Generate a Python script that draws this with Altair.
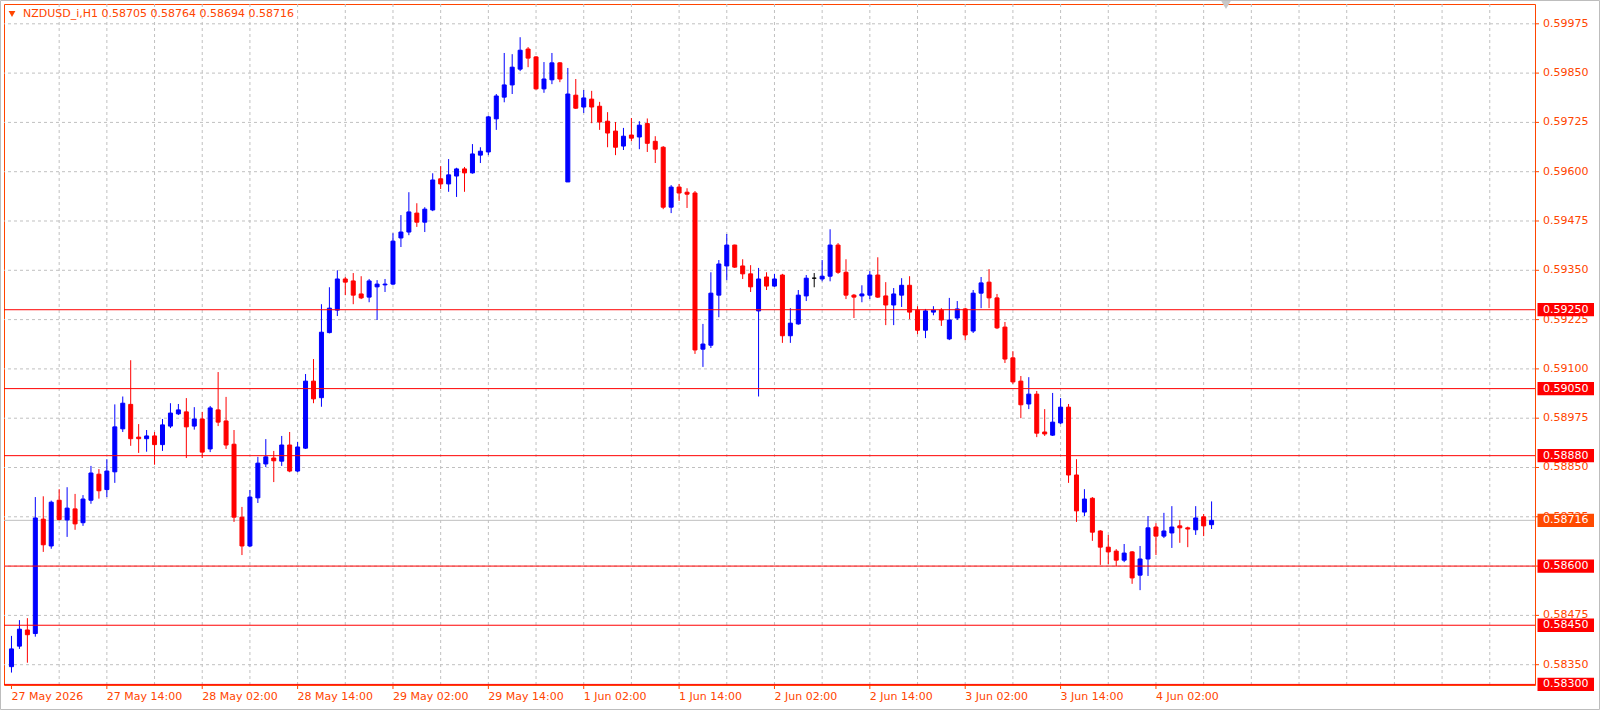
import altair as alt
import pandas as pd

# ---------------- data ----------------
OPEN = [0.58345, 0.58397, 0.58438, 0.58429, 0.58719, 0.58651, 0.58767, 0.58717, 0.58745, 0.58710,
        0.58767, 0.58833, 0.58794, 0.58839, 0.58948, 0.59010, 0.58927, 0.58923, 0.58930, 0.58908,
        0.58955, 0.58986, 0.58991, 0.58955, 0.58973, 0.58897, 0.58996, 0.58968, 0.58909, 0.58724,
        0.58651, 0.58773, 0.58859, 0.58874, 0.58866, 0.58907, 0.58841, 0.58899, 0.59069, 0.59027,
        0.59192, 0.59249, 0.59328, 0.59323, 0.59290, 0.59282, 0.59308, 0.59313, 0.59315, 0.59432,
        0.59447, 0.59495, 0.59472, 0.59503, 0.59582, 0.59569, 0.59589, 0.59607, 0.59597, 0.59642,
        0.59650, 0.59734, 0.59789, 0.59820, 0.59860, 0.59911, 0.59891, 0.59810, 0.59833, 0.59876,
        0.59574, 0.59794, 0.59764, 0.59784, 0.59766, 0.59728, 0.59703, 0.59665, 0.59693, 0.59688,
        0.59722, 0.59677, 0.59662, 0.59510, 0.59561, 0.59548, 0.59546, 0.59150, 0.59160, 0.59287,
        0.59361, 0.59414, 0.59361, 0.59341, 0.59247, 0.59333, 0.59310, 0.59338, 0.59184, 0.59214,
        0.59285, 0.59330, 0.59328, 0.59335, 0.59414, 0.59345, 0.59287, 0.59285, 0.59287, 0.59338,
        0.59285, 0.59262, 0.59287, 0.59312, 0.59249, 0.59198, 0.59244, 0.59249, 0.59176, 0.59229,
        0.59252, 0.59196, 0.59292, 0.59320, 0.59280, 0.59206, 0.59128, 0.59069, 0.59011, 0.59036,
        0.58940, 0.58932, 0.58963, 0.59003, 0.58831, 0.58737, 0.58772, 0.58689, 0.58648, 0.58638,
        0.58615, 0.58636, 0.58577, 0.58618, 0.58699, 0.58676, 0.58684, 0.58702, 0.58697, 0.58692,
        0.58725, 0.58705]
HIGH = [0.58423, 0.58463, 0.58468, 0.58775, 0.58777, 0.58766, 0.58795, 0.58800, 0.58783, 0.58780,
        0.58854, 0.58846, 0.58871, 0.59010, 0.59030, 0.59122, 0.58960, 0.58945, 0.58940, 0.58973,
        0.59013, 0.59011, 0.59026, 0.59003, 0.58991, 0.59006, 0.59092, 0.59029, 0.58945, 0.58750,
        0.58793, 0.58877, 0.58922, 0.58892, 0.58930, 0.58940, 0.58915, 0.59087, 0.59125, 0.59264,
        0.59307, 0.59350, 0.59333, 0.59343, 0.59335, 0.59328, 0.59325, 0.59328, 0.59444, 0.59490,
        0.59548, 0.59520, 0.59510, 0.59596, 0.59614, 0.59632, 0.59610, 0.59612, 0.59670, 0.59662,
        0.59742, 0.59797, 0.59901, 0.59898, 0.59941, 0.59916, 0.59893, 0.59878, 0.59901, 0.59878,
        0.59863, 0.59835, 0.59807, 0.59805, 0.59777, 0.59751, 0.59726, 0.59711, 0.59736, 0.59728,
        0.59735, 0.59690, 0.59665, 0.59566, 0.59569, 0.59558, 0.59551, 0.59214, 0.59345, 0.59376,
        0.59442, 0.59415, 0.59378, 0.59363, 0.59356, 0.59345, 0.59341, 0.59341, 0.59254, 0.59300,
        0.59338, 0.59343, 0.59376, 0.59454, 0.59419, 0.59378, 0.59290, 0.59312, 0.59348, 0.59383,
        0.59320, 0.59305, 0.59330, 0.59335, 0.59259, 0.59252, 0.59259, 0.59254, 0.59280, 0.59272,
        0.59255, 0.59300, 0.59333, 0.59353, 0.59290, 0.59219, 0.59145, 0.59082, 0.59079, 0.59044,
        0.58998, 0.59039, 0.59026, 0.59011, 0.58871, 0.58795, 0.58775, 0.58691, 0.58679, 0.58643,
        0.58656, 0.58638, 0.58651, 0.58727, 0.58709, 0.58735, 0.58752, 0.58717, 0.58700, 0.58752,
        0.58732, 0.58764]
LOW = [0.58330, 0.58390, 0.58355, 0.58421, 0.58636, 0.58644, 0.58716, 0.58674, 0.58692, 0.58702,
       0.58758, 0.58771, 0.58775, 0.58811, 0.58940, 0.58905, 0.58887, 0.58890, 0.58857, 0.58892,
       0.58950, 0.58983, 0.58874, 0.58946, 0.58874, 0.58889, 0.58955, 0.58897, 0.58712, 0.58628,
       0.58648, 0.58760, 0.58851, 0.58813, 0.58854, 0.58838, 0.58838, 0.58897, 0.59013, 0.59004,
       0.59190, 0.59234, 0.59287, 0.59264, 0.59277, 0.59269, 0.59224, 0.59295, 0.59312, 0.59409,
       0.59439, 0.59460, 0.59447, 0.59500, 0.59556, 0.59549, 0.59536, 0.59549, 0.59595, 0.59622,
       0.59642, 0.59706, 0.59776, 0.59797, 0.59855, 0.59865, 0.59808, 0.59800, 0.59822, 0.59827,
       0.59574, 0.59759, 0.59749, 0.59723, 0.59706, 0.59662, 0.59642, 0.59655, 0.59677, 0.59657,
       0.59650, 0.59622, 0.59505, 0.59495, 0.59526, 0.59508, 0.59138, 0.59105, 0.59153, 0.59231,
       0.59325, 0.59356, 0.59328, 0.59295, 0.59030, 0.59300, 0.59308, 0.59166, 0.59166, 0.59212,
       0.59272, 0.59307, 0.59322, 0.59322, 0.59341, 0.59277, 0.59229, 0.59269, 0.59277, 0.59280,
       0.59211, 0.59211, 0.59257, 0.59226, 0.59188, 0.59178, 0.59236, 0.59209, 0.59173, 0.59224,
       0.59173, 0.59191, 0.59254, 0.59254, 0.59201, 0.59115, 0.59062, 0.58975, 0.58998, 0.58927,
       0.58930, 0.58930, 0.58960, 0.58811, 0.58712, 0.58727, 0.58664, 0.58603, 0.58605, 0.58600,
       0.58610, 0.58555, 0.58539, 0.58575, 0.58628, 0.58671, 0.58646, 0.58659, 0.58648, 0.58679,
       0.58676, 0.58694]
CLOSE = [0.58390, 0.58440, 0.58426, 0.58722, 0.58654, 0.58762, 0.58718, 0.58747, 0.58707, 0.58770,
         0.58836, 0.58791, 0.58841, 0.58953, 0.59013, 0.58923, 0.58923, 0.58930, 0.58908, 0.58958,
         0.58988, 0.58996, 0.58953, 0.58973, 0.58889, 0.59001, 0.58965, 0.58907, 0.58724, 0.58651,
         0.58775, 0.58861, 0.58877, 0.58867, 0.58907, 0.58841, 0.58902, 0.59069, 0.59024, 0.59193,
         0.59254, 0.59328, 0.59320, 0.59287, 0.59280, 0.59323, 0.59315, 0.59315, 0.59424, 0.59447,
         0.59498, 0.59472, 0.59505, 0.59579, 0.59569, 0.59592, 0.59607, 0.59597, 0.59645, 0.59652,
         0.59739, 0.59792, 0.59820, 0.59865, 0.59908, 0.59888, 0.59810, 0.59835, 0.59876, 0.59835,
         0.59797, 0.59761, 0.59787, 0.59764, 0.59726, 0.59698, 0.59662, 0.59690, 0.59685, 0.59718,
         0.59672, 0.59657, 0.59510, 0.59561, 0.59546, 0.59543, 0.59148, 0.59163, 0.59292, 0.59366,
         0.59414, 0.59358, 0.59341, 0.59308, 0.59328, 0.59310, 0.59328, 0.59184, 0.59216, 0.59287,
         0.59330, 0.59330, 0.59335, 0.59414, 0.59345, 0.59287, 0.59282, 0.59290, 0.59338, 0.59282,
         0.59262, 0.59290, 0.59312, 0.59244, 0.59198, 0.59247, 0.59249, 0.59224, 0.59224, 0.59252,
         0.59186, 0.59292, 0.59318, 0.59280, 0.59204, 0.59125, 0.59067, 0.59009, 0.59036, 0.58937,
         0.58935, 0.58965, 0.59003, 0.58831, 0.58740, 0.58770, 0.58686, 0.58648, 0.58636, 0.58615,
         0.58633, 0.58570, 0.58618, 0.58697, 0.58676, 0.58689, 0.58699, 0.58697, 0.58694, 0.58722,
         0.58702, 0.58716]

X_LABELS = ["27 May 2026", "27 May 14:00", "28 May 02:00", "28 May 14:00", "29 May 02:00",
            "29 May 14:00", "1 Jun 02:00", "1 Jun 14:00", "2 Jun 02:00", "2 Jun 14:00",
            "3 Jun 02:00", "3 Jun 14:00", "4 Jun 02:00"]
X_LABEL_STEP = 12
X_GRID_STEP = 6
PRICE_TICKS = [0.58350, 0.58475, 0.58600, 0.58725, 0.58850, 0.58975, 0.59100,
               0.59225, 0.59350, 0.59475, 0.59600, 0.59725, 0.59850, 0.59975]
LEVELS = [0.59250, 0.59050, 0.58880, 0.58600, 0.58450, 0.58300]
LAST_PRICE = 0.58716
SYMBOL = "NZDUSD_i,H1"

# ---------------- styling ----------------
FONT = "DejaVu Sans"
ORANGE = "#FF4500"
GRID = "#C0C0C0"
W, H = 1531, 681
XDOM = [-0.3125, 191.0625]
YDOM = [0.582985, 0.600252]

n = len(OPEN)
df = pd.DataFrame({"i": list(range(n)), "o": OPEN, "h": HIGH, "l": LOW, "c": CLOSE})
df["dir"] = ["up" if c > o else ("down" if c < o else "flat") for o, c in zip(OPEN, CLOSE)]

xs = alt.Scale(domain=XDOM, nice=False, zero=False)
ys = alt.Scale(domain=YDOM, nice=False, zero=False)
col = alt.Scale(domain=["up", "down", "flat"], range=["#0000FF", "#FF0000", "#000000"])

# grid
vgrid = alt.Chart(pd.DataFrame({"g": list(range(X_GRID_STEP, int(XDOM[1]) + 1, X_GRID_STEP))})).mark_rule(
    color=GRID, strokeDash=[3, 3], strokeWidth=1).encode(x=alt.X("g:Q", scale=xs, axis=None))
hgrid = alt.Chart(pd.DataFrame({"p": PRICE_TICKS})).mark_rule(
    color=GRID, strokeDash=[3, 3], strokeWidth=1).encode(y=alt.Y("p:Q", scale=ys, axis=None))
bidline = alt.Chart(pd.DataFrame({"p": [LAST_PRICE]})).mark_rule(
    color=GRID, strokeWidth=1).encode(y=alt.Y("p:Q", scale=ys, axis=None))

# candles
base = alt.Chart(df)
wicks = base.mark_rule(strokeWidth=1).encode(
    x=alt.X("i:Q", scale=xs, axis=None),
    y=alt.Y("l:Q", scale=ys, axis=None),
    y2="h:Q",
    color=alt.Color("dir:N", scale=col, legend=None))
bodies = base.mark_bar(orient="vertical", size=4, strokeWidth=1).encode(
    x=alt.X("i:Q", scale=xs, axis=None),
    y=alt.Y("o:Q", scale=ys, axis=None),
    y2="c:Q",
    color=alt.Color("dir:N", scale=col, legend=None),
    stroke=alt.Stroke("dir:N", scale=col, legend=None))

# axes (price axis on the right, time axis at the bottom)
ytk = pd.DataFrame({"p": PRICE_TICKS})
y_ticks = alt.Chart(ytk).mark_rule(color=ORANGE, strokeWidth=1).encode(
    x=alt.value(W), x2=alt.value(W + 4), y=alt.Y("p:Q", scale=ys, axis=None))
y_labels = alt.Chart(ytk).mark_text(align="left", baseline="middle", color=ORANGE,
                                    font=FONT, fontSize=11).encode(
    x=alt.value(W + 8), y=alt.Y("p:Q", scale=ys, axis=None),
    text=alt.Text("p:Q", format=".5f"))
xtk = pd.DataFrame({"b": [k * X_LABEL_STEP for k in range(len(X_LABELS))], "lab": X_LABELS})
x_ticks = alt.Chart(xtk).mark_rule(color=ORANGE, strokeWidth=1).encode(
    x=alt.X("b:Q", scale=xs, axis=None), y=alt.value(H), y2=alt.value(H + 4))
x_labels = alt.Chart(xtk).mark_text(align="left", baseline="top", color=ORANGE,
                                    font=FONT, fontSize=11, dx=0).encode(
    x=alt.X("b:Q", scale=xs, axis=None), y=alt.value(H + 6), text="lab:N")

# horizontal levels
lv = pd.DataFrame({"p": LEVELS})
levels = alt.Chart(lv).mark_rule(color="#FF0000", strokeWidth=1).encode(
    y=alt.Y("p:Q", scale=ys, axis=None))
lv_box = alt.Chart(lv).transform_calculate(
    lo="datum.p - 0.000168", hi="datum.p + 0.000168").mark_rect(color="#FF0000").encode(
    x=alt.value(1533.5), x2=alt.value(1590),
    y=alt.Y("lo:Q", scale=ys, axis=None), y2="hi:Q")
lv_txt = alt.Chart(lv).mark_text(align="left", baseline="middle", color="white",
                                 font=FONT, fontSize=11).encode(
    x=alt.value(W + 8), y=alt.Y("p:Q", scale=ys, axis=None),
    text=alt.Text("p:Q", format=".5f"))

lp = pd.DataFrame({"p": [LAST_PRICE]})
lp_box = alt.Chart(lp).transform_calculate(
    lo="datum.p - 0.000168", hi="datum.p + 0.000168").mark_rect(color="#FF4A00").encode(
    x=alt.value(1533.5), x2=alt.value(1590),
    y=alt.Y("lo:Q", scale=ys, axis=None), y2="hi:Q")
lp_txt = alt.Chart(lp).mark_text(align="left", baseline="middle", color="white",
                                 font=FONT, fontSize=11).encode(
    x=alt.value(W + 8), y=alt.Y("p:Q", scale=ys, axis=None),
    text=alt.Text("p:Q", format=".5f"))

# title line
title = "%s  %.5f %.5f %.5f %.5f" % (SYMBOL, OPEN[-1], HIGH[-1], LOW[-1], CLOSE[-1])
one = pd.DataFrame({"t": [title]})
title_txt = alt.Chart(one).mark_text(align="left", baseline="middle", color=ORANGE,
                                     font=FONT, fontSize=11).encode(
    x=alt.value(19), y=alt.value(10), text="t:N")
title_tri = alt.Chart(one).mark_point(shape="triangle-down", filled=True, size=45,
                                      color=ORANGE, opacity=1).encode(
    x=alt.value(8), y=alt.value(10))
shift_tri = alt.Chart(one).mark_point(shape="triangle-down", filled=True, size=90,
                                      color="#C8C8C8", opacity=1).encode(
    x=alt.value(1222), y=alt.value(1))
window = alt.Chart(one).mark_rect(fillOpacity=0, stroke="#BDBDBD", strokeWidth=1).encode(
    x=alt.value(-3.5), x2=alt.value(1595.5), y=alt.value(-3.5), y2=alt.value(705.5))

chart = alt.layer(
    vgrid, hgrid, bidline, wicks, bodies, levels,
    y_ticks, y_labels, x_ticks, x_labels,
    lv_box, lv_txt, lp_box, lp_txt,
    title_tri, title_txt, shift_tri, window
).properties(
    width=W, height=H,
    padding={"left": 4, "top": 4, "right": 66, "bottom": 27},
    autosize="none", background="white"
).configure_view(stroke=ORANGE, strokeWidth=1)

chart.save("out.html", embed_options={"renderer": "svg", "actions": False})
